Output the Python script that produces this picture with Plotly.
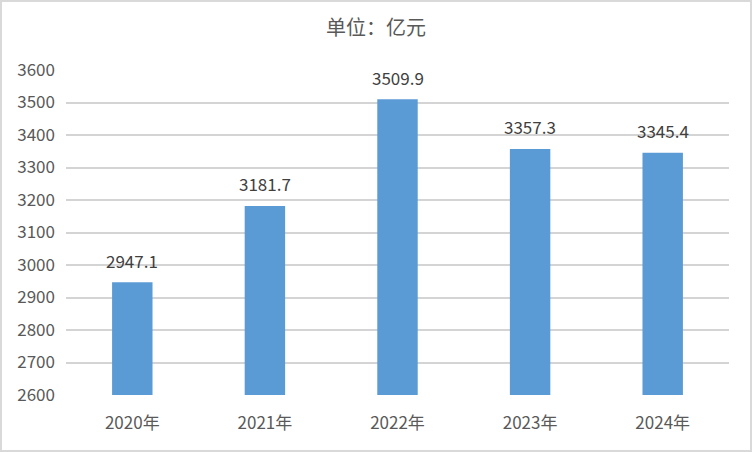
import plotly.graph_objects as go

categories = ["2020年", "2021年", "2022年", "2023年", "2024年"]
values = [2947.1, 3181.7, 3509.9, 3357.3, 3345.4]
labels = ["2947.1", "3181.7", "3509.9", "3357.3", "3345.4"]
y_ticks = [2600, 2700, 2800, 2900, 3000, 3100, 3200, 3300, 3400, 3500, 3600]

font_family = "Noto Sans CJK SC, Noto Sans, sans-serif"

fig = go.Figure(go.Bar(
    x=categories,
    y=values,
    marker=dict(color="#5B9BD5", line=dict(width=0)),
    hoverinfo="skip",
))

for c, v, t in zip(categories, values, labels):
    fig.add_annotation(x=c, y=v, text=t, showarrow=False, yanchor="middle",
                       yshift=22, font=dict(size=17, color="#404040", family=font_family))

fig.update_layout(
    width=752, height=452,
    margin=dict(l=66, r=23, t=70, b=57),
    paper_bgcolor="white",
    plot_bgcolor="white",
    bargap=0.695,
    showlegend=False,
    title=dict(text="单位：亿元", x=0.5, xanchor="center", y=1 - 28/452, yanchor="middle",
               font=dict(size=20, color="#595959", family=font_family)),
    font=dict(family=font_family, color="#595959"),
    xaxis=dict(showgrid=False, showline=False, ticks="",
               tickfont=dict(size=17, color="#595959"), ticklabelstandoff=16),
    yaxis=dict(range=[2600, 3600], tickvals=y_ticks, showgrid=True,
               gridcolor="#d4d4d4", gridwidth=1.6, zeroline=False, showline=False,
               ticks="", tickfont=dict(size=17, color="#595959"), ticklabelstandoff=10),
    shapes=[dict(type="rect", xref="paper", yref="paper", x0=-65/663, x1=1+22/663,
                 y0=-56/325, y1=1+69/325, line=dict(color="#d9d9d9", width=2),
                 fillcolor="rgba(0,0,0,0)")],
)

fig.write_html("out.html", config={"displayModeBar": False},
               post_script="document.body.style.margin='0';document.body.style.padding='0';")
